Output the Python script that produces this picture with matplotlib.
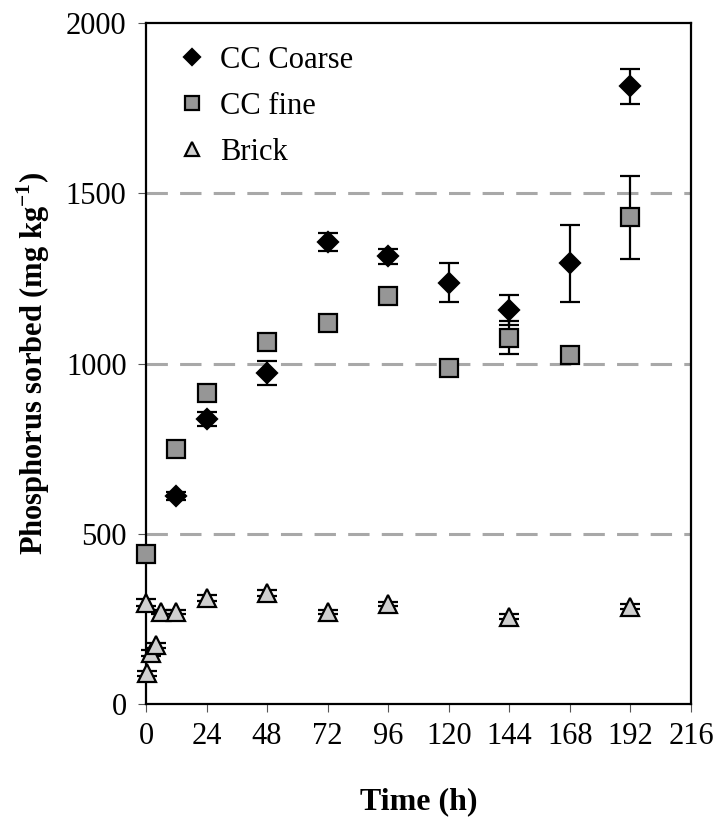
import numpy as np
import matplotlib
matplotlib.use("Agg")
import matplotlib.pyplot as plt
from matplotlib.lines import Line2D

plt.rcParams['font.family'] = ['Liberation Serif', 'DejaVu Serif']
plt.rcParams['mathtext.fontset'] = 'custom'
plt.rcParams['mathtext.rm'] = 'Liberation Serif'
plt.rcParams['mathtext.bf'] = 'Liberation Serif:bold'

# sorption data (time in h, P sorbed in mg/kg, error = 1 sd)
t_coarse = [12, 24, 48, 72, 96, 120, 144, 168, 192]
p_coarse = [610, 838, 972, 1357, 1315, 1238, 1158, 1294, 1814]
e_coarse = [12, 20, 36, 25, 22, 58, 44, 112, 51]

t_fine = [0, 12, 24, 48, 72, 96, 120, 144, 168, 192]
p_fine = [441, 750, 914, 1062, 1118, 1198, 987, 1076, 1026, 1429]
e_fine = [0, 0, 0, 0, 8, 15, 0, 48, 0, 122]

t_brick = [0, 0.5, 2, 4, 6, 12, 24, 48, 72, 96, 144, 192]
p_brick = [297, 90, 150, 172, 271, 271, 311, 326, 271, 294, 257, 286]
e_brick = [10, 8, 8, 8, 6, 6, 8, 8, 6, 6, 8, 8]

fig = plt.figure(figsize=(7.2, 8.24), dpi=100)
ax = fig.add_axes([0.2028, 0.1456, 0.7569, 0.8264])

for y in [500, 1000, 1500]:
    ax.axhline(y, color='#a8a8a8', lw=2.2, dashes=(7, 4), zorder=1)

styles = [
    (t_coarse, p_coarse, e_coarse, 'D', 10.5, 'black', 'CC Coarse'),
    (t_fine, p_fine, e_fine, 's', 13, '#969696', 'CC fine'),
    (t_brick, p_brick, e_brick, '^', 13, '#d0d0d0', 'Brick'),
]
handles = []
for i, (t, p, e, m, ms, fc, lab) in enumerate(styles):
    _, caps, bars = ax.errorbar(t, p, yerr=e, fmt='none', ecolor='black',
                                elinewidth=1.6, capsize=7, capthick=1.6,
                                zorder=3 + i)
    for c in caps:
        c.set_clip_on(False)
    for b in bars:
        b.set_clip_on(False)
    ax.plot(t, p, ls='none', marker=m, ms=ms, mfc=fc, mec='black', mew=1.6,
            zorder=3.5 + i, clip_on=False)
    handles.append(Line2D([], [], ls='none', marker=m, ms=ms * 0.8, mfc=fc,
                          mec='black', mew=1.6, label=lab))

ax.set_xlim(0, 216)
ax.set_ylim(0, 2000)
ax.set_xticks(np.arange(0, 217, 24))
ax.set_yticks([0, 500, 1000, 1500, 2000])

for s in ax.spines.values():
    s.set_linewidth(1.6)
    s.set_zorder(2)
ax.tick_params(direction='out', length=6, width=0.8, color='#555555',
               labelsize=22, pad=7)
ax.tick_params(axis='y', pad=8)

ax.set_xlabel('Time (h)', fontsize=23, fontweight='bold', labelpad=26)
ax.set_ylabel(r'Phosphorus sorbed (mg kg$^{\mathregular{-1}}$)', fontsize=22,
              fontweight='bold', labelpad=10)

ax.legend(handles=handles, loc='upper left', frameon=False, fontsize=22,
          handletextpad=0.3, labelspacing=0.55, borderaxespad=0.2,
          handlelength=1.2, bbox_to_anchor=(0.018, 0.993))

fig.savefig('out.png', dpi=100)
